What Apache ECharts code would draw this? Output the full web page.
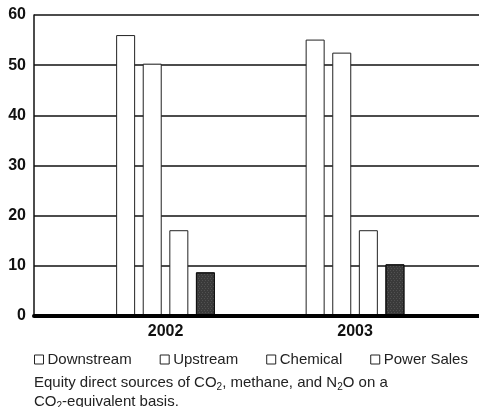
<!DOCTYPE html>
<html>
<head>
<meta charset="utf-8">
<script src="https://cdn.jsdelivr.net/npm/echarts@6/dist/echarts.min.js"></script>
<style>html,body{margin:0;padding:0;background:#fff;}#c{width:479px;height:407px;}</style>
</head>
<body>
<div id="c"></div>
<script>
var years = ['2002', '2003'];
var seriesNames = ['Downstream', 'Upstream', 'Chemical', 'Power Sales'];
var downstream = [56.0, 55.1];
var upstream = [50.3, 52.5];
var chemical = [17.1, 17.1];
var powerSales = [8.7, 10.3];
var yTicks = [0, 10, 20, 30, 40, 50, 60];

var values = [downstream, upstream, chemical, powerSales];
var FONT = '"Liberation Sans", Arial, Helvetica, sans-serif';

var chart = echarts.init(document.getElementById('c'), null, {renderer: 'canvas'});

var series = seriesNames.map(function (name, i) {
  var dark = i === 3;
  return {
    name: name,
    type: 'bar',
    barWidth: 19,
    barGap: '40%',
    data: values[i].map(function (v, j) { return [j, v]; }),
    itemStyle: dark ? {
      color: '#3a3a3a',
      borderColor: '#111',
      borderWidth: 1,
      decal: {
        symbol: 'rect',
        symbolSize: 0.6,
        color: 'rgba(200,200,200,0.55)',
        dashArrayX: [[1, 2], [0, 1, 1, 1]],
        dashArrayY: [1, 1],
        rotation: 0
      }
    } : {
      color: '#ffffff',
      borderColor: '#222',
      borderWidth: 1
    },
    emphasis: {disabled: true},
    silent: true,
    z: 3
  };
});

var option = {
  animation: false,
  backgroundColor: '#ffffff',
  grid: {left: 34, right: 0, top: 15, bottom: 91, containLabel: false},
  xAxis: {
    type: 'value',
    min: -0.694,
    max: 1.654,
    splitLine: {show: false},
    axisTick: {show: false},
    axisLine: {show: true, onZero: false, lineStyle: {color: '#000', width: 4}},
    axisLabel: {
      customValues: [0, 1],
      formatter: function (v) { return years[Math.round(v)]; },
      fontFamily: FONT,
      fontSize: 16,
      fontWeight: 'bold',
      color: '#111',
      margin: 8
    },
    z: 5
  },
  yAxis: {
    type: 'value',
    min: 0,
    max: 60,
    interval: 10,
    axisLine: {show: true, onZero: false, lineStyle: {color: '#111', width: 1.5}},
    axisTick: {show: false},
    splitLine: {show: true, lineStyle: {color: '#111', width: 1.5}},
    axisLabel: {
      customValues: yTicks,
      fontFamily: FONT,
      fontSize: 16,
      fontWeight: 'bold',
      color: '#111',
      margin: 8
    }
  },
  legend: {
    left: 34,
    top: 352,
    padding: 0,
    itemWidth: 9,
    itemHeight: 9,
    itemGap: 28,
    icon: 'rect',
    selectedMode: false,
    textStyle: {fontFamily: FONT, fontSize: 15, color: '#222', padding: [0, 0, 0, -1]},
    data: seriesNames.map(function (n) {
      return {name: n, itemStyle: {color: '#fff', borderColor: '#222', borderWidth: 1, decal: 'none'}};
    })
  },
  title: {
    left: 34,
    top: 373,
    padding: 0,
    text: '{a|Equity direct sources of CO}{s|2}{a|, methane, and N}{s|2}{a|O on a}\n{a|CO}{s|2}{a|-equivalent basis.}',
    textStyle: {
      fontFamily: FONT,
      fontWeight: 'normal',
      fontSize: 15,
      color: '#222',
      rich: {
        a: {fontFamily: FONT, fontSize: 15, color: '#222', lineHeight: 19},
        s: {fontFamily: FONT, fontSize: 10, color: '#222', lineHeight: 19, verticalAlign: 'bottom', padding: [6, 0, 0, 0]}
      }
    }
  },
  series: series
};
chart.setOption(option);
</script>
</body>
</html>
